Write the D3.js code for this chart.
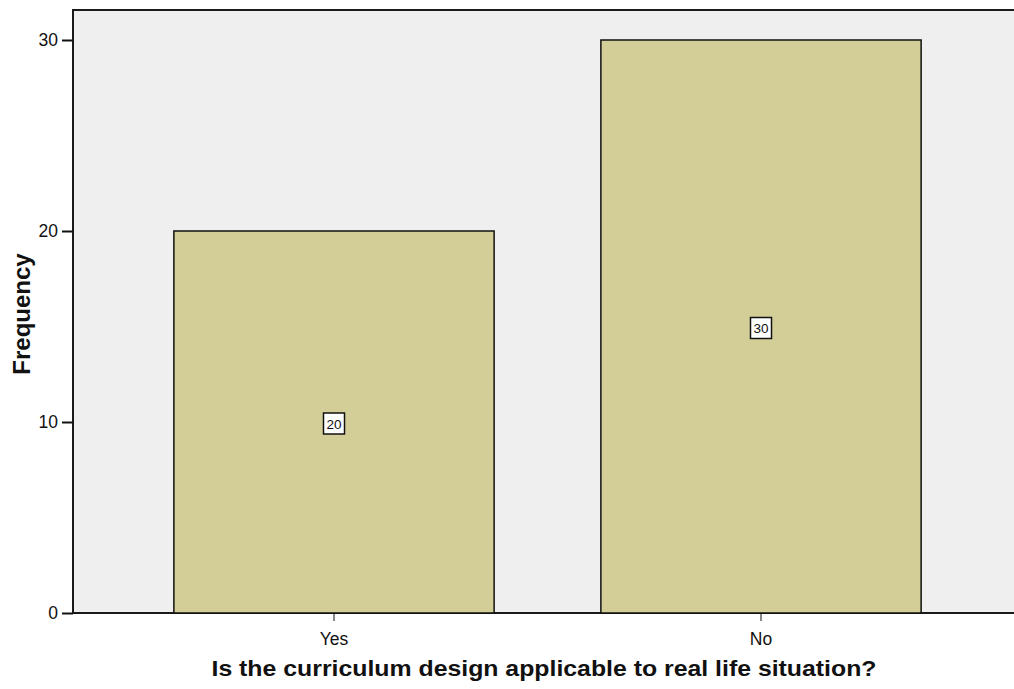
<!DOCTYPE html>
<html>
<head>
<meta charset="utf-8">
<script src="https://cdn.jsdelivr.net/npm/d3@7"></script>
<style>
  body { margin: 0; background: #fff; }
  svg { display: block; font-family: Arial, "Liberation Sans", sans-serif; }
</style>
</head>
<body>
<div id="chart"></div>
<script>
const categories = ['Yes', 'No'];
const frequencies = [20, 30];
const yTicks = [0, 10, 20, 30];

const width = 1014, height = 689;
const plot = { left: 73, top: 10, right: 1016, bottom: 613 };
const font = 'Arial, "Liberation Sans", sans-serif';

const svg = d3.select('#chart').append('svg')
  .attr('width', width).attr('height', height);

const x = d3.scaleBand()
  .domain(categories)
  .range([120.5, 974.5])
  .paddingInner(0.25)
  .paddingOuter(0.125);

const y = d3.scaleLinear()
  .domain([0, 30])
  .range([plot.bottom, 40]);

// plot background
svg.append('rect')
  .attr('x', plot.left).attr('y', plot.top)
  .attr('width', plot.right - plot.left)
  .attr('height', plot.bottom - plot.top)
  .attr('fill', '#efefef')
  .attr('stroke', '#1a1a1a')
  .attr('stroke-width', 2);

// bars
svg.selectAll('.bar')
  .data(categories)
  .enter().append('rect')
  .attr('x', d => x(d))
  .attr('y', (d, i) => y(frequencies[i]))
  .attr('width', x.bandwidth())
  .attr('height', (d, i) => y(0) - y(frequencies[i]))
  .attr('fill', '#d3ce98')
  .attr('stroke', '#111')
  .attr('stroke-width', 1.5);

// value labels
const lab = svg.selectAll('.lab')
  .data(categories)
  .enter().append('g')
  .attr('transform', (d, i) =>
    'translate(' + (x(d) + x.bandwidth() / 2) + ',' + y(frequencies[i] / 2) + ')');
lab.append('rect')
  .attr('x', -10.5).attr('y', -9)
  .attr('width', 21).attr('height', 21)
  .attr('fill', '#fff').attr('stroke', '#111').attr('stroke-width', 1.5);
lab.append('text')
  .attr('y', 6.5)
  .attr('text-anchor', 'middle')
  .attr('font-size', 13.5)
  .attr('fill', '#111')
  .text((d, i) => frequencies[i]);

// y axis
const yAxis = svg.append('g')
  .attr('transform', 'translate(' + plot.left + ',0)')
  .call(d3.axisLeft(y).tickValues(yTicks).tickSize(11).tickPadding(4));
yAxis.select('.domain').remove();
yAxis.selectAll('.tick line').attr('stroke', '#111').attr('stroke-width', 2);
yAxis.selectAll('.tick text')
  .attr('font-size', 17.5).attr('fill', '#111').attr('font-family', font);

// x axis
const xAxis = svg.append('g')
  .attr('transform', 'translate(0,' + plot.bottom + ')')
  .call(d3.axisBottom(x).tickSize(8));
xAxis.select('.domain').remove();
xAxis.selectAll('.tick line').attr('stroke', '#111').attr('stroke-width', 1);
xAxis.selectAll('.tick text')
  .attr('y', 32).attr('dy', 0)
  .attr('font-size', 17.5).attr('fill', '#111').attr('font-family', font);

// axis titles
svg.append('text')
  .attr('transform', 'translate(30,314) rotate(-90)')
  .attr('text-anchor', 'middle')
  .attr('font-size', 24).attr('font-weight', 'bold').attr('fill', '#111')
  .text('Frequency');

svg.append('text')
  .attr('x', 544).attr('y', 676)
  .attr('text-anchor', 'middle')
  .attr('font-size', 22).attr('font-weight', 'bold').attr('fill', '#111')
  .attr('textLength', 665).attr('lengthAdjust', 'spacingAndGlyphs')
  .text('Is the curriculum design applicable to real life situation?');
</script>
</body>
</html>
